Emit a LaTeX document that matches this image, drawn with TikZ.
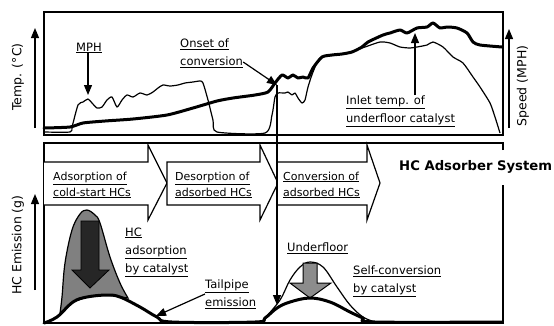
\documentclass[tikz,border=0pt]{standalone}
\usepackage{fontspec}
\setmainfont{DejaVu Sans}
\usetikzlibrary{arrows.meta}

\newcommand{\undl}[1]{\underline{#1}}

\tikzset{
  frame/.style={line width=1.3pt},
  templine/.style={line width=3pt, line join=round, line cap=round},
  speedline/.style={line width=1.2pt, line join=round},
  stagebox/.style={draw, line width=1.2pt, fill=white},
  lbl/.style={font=\fontsize{11.5}{18}\selectfont, align=left, inner sep=0pt, anchor=west},
  stagelbl/.style={lbl, font=\fontsize{11}{16}\selectfont},
  axislbl/.style={font=\fontsize{12.5}{14}\selectfont, rotate=90, inner sep=0pt},
  pointer/.style={line width=1.2pt, -{Triangle[length=10pt,width=8pt]}},
}

\begin{document}
\begin{tikzpicture}[x=1pt, y=-1pt]
    \useasboundingbox (0,0) rectangle (554,325);

    % frames
    \draw[frame] (44,12) rectangle (503,135); % top chart
    \draw[frame] (503,150) -- (503,143) -- (44,143) -- (44,323) -- (503,323) -- (503,185); % bottom chart

    % axes
    \coordinate (tempbot) at (35,128);
    \coordinate (temptop) at (35,28);
    \coordinate (speedbot) at (509,128);
    \coordinate (speedtop) at (509,29);
    \coordinate (hcbot) at (35,290);
    \coordinate (hctop) at (35,194);
    \draw[pointer] (tempbot) -- (temptop);
    \draw[pointer] (speedbot) -- (speedtop);
    \draw[pointer] (hcbot) -- (hctop);
    \node[axislbl] (templbl) at (18,77) {Temp. (°C)};
    \node[axislbl] (speedlbl) at (523,86) {Speed (MPH)};
    \node[axislbl] (hclbl) at (18,245) {HC Emission (g)};

    % vehicle speed
    \draw[speedline] plot[smooth, tension=0.4] coordinates {(44,132) (70,132) (72,127) (78,105) (83,102) (88,99) (92,103) (97,108) (102,107) (107,100) (112,97) (117,107) (122,100) (127,95) (133,97) (140,93) (147,95) (153,92) (158,88) (163,85) (170,86) (178,85) (185,83) (193,82) (200,81) (203,83) (208,100) (213,120) (217,132) (265,133) (272,115) (275,97) (278,93) (285,93) (288,92) (292,95) (295,93) (298,98) (302,103) (305,100) (308,87) (313,72) (320,58) (335,55) (350,52) (365,47) (380,42) (390,43) (400,47) (410,48) (417,47) (427,45) (433,42) (443,47) (453,57) (463,63) (473,77) (480,87) (490,103) (495,117) (500,133)};

    % inlet temperature
    \draw[templine] plot[smooth, tension=0.4] coordinates {(44,128) (70,127) (83,123) (105,121) (133,119) (167,115) (193,108) (217,101) (233,98) (255,95) (268,92) (275,83) (282,75) (288,78) (293,75) (298,78) (303,77) (308,78) (313,68) (322,57) (332,55) (342,54) (352,52) (362,47) (368,42) (383,35) (390,33) (400,30) (407,33) (417,28) (427,27) (433,23) (440,28) (447,27) (457,28) (467,33) (473,42) (480,45) (502,47)};

    % labels of the top chart
    \node[lbl] (mph) at (76,48) {\undl{MPH}};
    \coordinate (mphpt) at (88,95);
    \draw[pointer] (mph.south -| mphpt) -- (mphpt);

    \node[lbl] (onset) at (180,53) {\undl{Onset of}\\\undl{conversion}};
    \coordinate (onsetpt) at (277,85);
    \draw[pointer] ([yshift=-9pt]onset.east) -- (onsetpt);

    \node[lbl] (inlet) at (346,111) {\undl{Inlet temp. of}\\\undl{underfloor catalyst}};
    \coordinate (inletpt) at (415,33);
    \draw[pointer] (inlet.north -| inletpt) -- (inletpt);

    % stages
    \draw[stagebox] (44,162) -- (148,162) -- (148,145) -- (167,183) -- (148,220) -- (148,205) -- (44,205);
    \draw[stagebox] (167,162) -- (260,162) -- (260,145) -- (278,183) -- (260,220) -- (260,205) -- (167,205) -- cycle;
    \draw[stagebox] (277,162) -- (367,162) -- (367,145) -- (380,183) -- (367,220) -- (367,205) -- (277,205) -- cycle;
    \node[stagelbl] (adsorb) at (53,185) {\undl{Adsorption of}\\\undl{cold-start HCs}};
    \node[stagelbl] (desorb) at (175,185) {\undl{Desorption of}\\\undl{adsorbed HCs}};
    \node[stagelbl] (convert) at (283,185) {\undl{Conversion of}\\\undl{adsorbed HCs}};
    \node[lbl, font=\bfseries\fontsize{13.2}{14}\selectfont] (system) at (399,167) {HC Adsorber System};

    % HC emission
    \filldraw[fill=black!50, line width=1.2pt] plot[smooth, tension=0.6] coordinates {(60,313) (62,297) (65,263) (72,230) (80,214) (87,210) (95,215) (100,223) (110,257) (120,283) (128,298)} -- (107,295) -- (87,297) -- (73,302) -- cycle;
    \filldraw[fill=black!85, draw=black, line width=0.8pt] (81,221) -- (99,221) -- (99,270) -- (109,270) -- (90,288) -- (72,270) -- (81,270) -- cycle;

    \draw[speedline] plot[smooth, tension=0.6] coordinates {(265,318) (280,300) (290,280) (300,267) (310,262) (323,267) (337,287) (350,305) (363,317) (375,322)};
    \filldraw[fill=black!45, draw=black, line width=1pt] (303,263) -- (317,263) -- (317,283) -- (331,283) -- (310,298) -- (290,283) -- (303,283) -- cycle;

    \draw[templine] plot[smooth, tension=0.6] coordinates {(44,323) (57,317) (73,302) (87,297) (107,295) (120,297) (140,307) (157,317) (172,322) (255,322) (265,318) (277,308) (290,302) (310,298) (330,302) (350,312) (363,318) (375,322) (502,322)};

    % onset line
    \coordinate (onsetbot) at (277,305);
    \draw[pointer] (onsetpt) -- (onsetbot);

    % labels of the bottom chart
    \node[lbl] (hcads) at (125,252) {\undl{HC}\\\undl{adsorption}\\\undl{by catalyst}};
    \node[lbl] (tailpipe) at (205,294) {\undl{Tailpipe}\\\undl{emission}};
    \coordinate (tailpt) at (156,316);
    \draw[pointer] (tailpipe.west) -- (tailpt);
    \node[lbl] (underfloor) at (287,248) {\undl{Underfloor}};
    \node[lbl] (selfconv) at (353,281) {\undl{Self-conversion}\\\undl{by catalyst}};
\end{tikzpicture}
\end{document}
